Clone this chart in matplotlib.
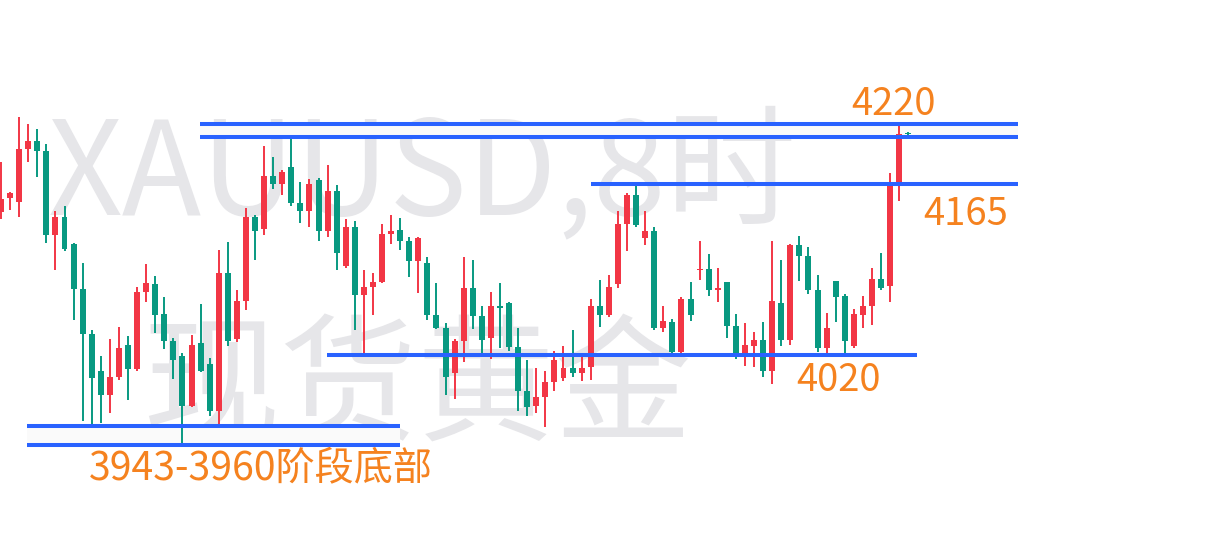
import matplotlib.pyplot as plt
from matplotlib.patches import Rectangle

plt.rcParams['font.family'] = ['Noto Sans CJK SC', 'DejaVu Sans']

# XAUUSD 8h candles (red = up, green = down)
opens = [4141, 4153, 4150, 4195, 4201, 4193, 4122, 4137, 4114, 4076,
         4038, 4007, 3986, 4002, 4029, 4008, 4074, 4080, 4055, 4032,
         4019, 3977, 4030, 4013, 3973, 4090, 4034, 4066, 4137, 4127,
         4172, 4165, 4179, 4149, 4142, 4168, 4125, 4159, 4096, 4129,
         4071, 4078, 4082, 4123, 4126, 4117, 4100, 4098, 4054, 4043,
         4005, 4032, 4077, 4053, 4035, 4062, 4064, 4027, 3990, 3977,
         3985, 3997, 4001, 4009, 4005, 4010, 4062, 4054, 4080, 4131,
         4156, 4119, 4125, 4043, 4048, 4023, 4068, 4092, 4093, 4075,
         4082, 4045, 4022, 4028, 4033, 4007, 4064, 4033, 4113, 4104,
         4075, 4026, 4083, 4070, 4028, 4054, 4062, 4085, 4079, 4163,
         4208]
highs = [4184, 4158, 4222, 4216, 4212, 4199, 4142, 4146, 4115, 4098,
         4041, 4019, 4034, 4044, 4036, 4078, 4097, 4087, 4069, 4035,
         4022, 4037, 4063, 4018, 4109, 4116, 4075, 4145, 4139, 4197,
         4188, 4177, 4204, 4167, 4169, 4170, 4181, 4164, 4135, 4134,
         4092, 4090, 4131, 4139, 4136, 4120, 4120, 4103, 4081, 4047,
         4034, 4103, 4101, 4062, 4074, 4081, 4065, 4043, 4016, 4009,
         4007, 4024, 4028, 4041, 4019, 4068, 4084, 4088, 4142, 4157,
         4165, 4142, 4129, 4062, 4051, 4069, 4082, 4117, 4106, 4094,
         4082, 4055, 4047, 4040, 4048, 4117, 4101, 4114, 4121, 4112,
         4088, 4056, 4083, 4072, 4059, 4070, 4094, 4107, 4174, 4214,
         4209]
lows = [4135, 4143, 4137, 4184, 4171, 4115, 4092, 4108, 4050, 3964,
        3961, 3963, 3971, 3999, 3982, 4007, 4065, 4039, 4025, 4000,
        3943, 3976, 4006, 3969, 3961, 4028, 4031, 4058, 4101, 4122,
        4161, 4156, 4146, 4132, 4129, 4117, 4120, 4092, 4094, 4041,
        4022, 4054, 4081, 4114, 4109, 4086, 4073, 4050, 4042, 3986,
        3983, 4014, 4042, 4022, 4017, 4026, 4024, 3973, 3969, 3971,
        3959, 3990, 3998, 4002, 3998, 3999, 4044, 4052, 4077, 4108,
        4129, 4113, 4041, 4040, 4022, 4022, 4049, 4084, 4070, 4065,
        4035, 4017, 4011, 4010, 4002, 3996, 4028, 4029, 4083, 4072,
        4023, 4022, 4048, 4021, 4026, 4043, 4046, 4075, 4065, 4151,
        4206]
closes = [4152, 4157, 4195, 4201, 4193, 4122, 4137, 4110, 4076, 4038,
          4001, 3986, 4002, 4026, 4008, 4074, 4081, 4054, 4032, 4016,
          3977, 4029, 4007, 3973, 4090, 4032, 4066, 4137, 4125, 4172,
          4165, 4175, 4149, 4142, 4165, 4125, 4159, 4107, 4129, 4071,
          4078, 4082, 4123, 4125, 4117, 4100, 4119, 4054, 4043, 4002,
          4032, 4077, 4053, 4033, 4062, 4060, 4027, 3990, 3976, 3985,
          3997, 4016, 4009, 4005, 4009, 4062, 4054, 4078, 4131, 4156,
          4130, 4125, 4043, 4049, 4023, 4068, 4054, 4093, 4075, 4077,
          4045, 4022, 4029, 4033, 4007, 4066, 4033, 4113, 4104, 4075,
          4026, 4043, 4069, 4032, 4055, 4062, 4085, 4077, 4163, 4207,
          4207]

# drawn levels
top_band = (4216, 4205)
resist = 4165
support = 4020
bottom_band = (3960, 3944)

label_top = '4220'
label_resist = '4165'
label_support = '4020'
label_bottom = '3943-3960阶段底部'

UP = '#F23645'
DOWN = '#089981'
BLUE = '#2962FF'
ORANGE = '#F5821F'
WM = '#E6E6E9'

fig = plt.figure(figsize=(12.14, 5.38), dpi=100)
ax = fig.add_axes([0, 0, 1, 1])
ax.axis('off')
ax.set_xlim(-0.11, 133.7)
ax.set_ylim(3865.3, 4320.8)

# watermark
ax.text(0.039, 1 - 214 / 538, 'XAUUSD,8时', transform=ax.transAxes,
        fontsize=94, color=WM, ha='left', va='baseline', zorder=0)
ax.text(0.117, 1 - 431 / 538, '现货黄金', transform=ax.transAxes,
        fontsize=99, color=WM, ha='left', va='baseline', zorder=0)

# shaded bands between the paired lines
ax.add_patch(Rectangle((21.94, top_band[1]), 112.1 - 21.94, top_band[0] - top_band[1],
                       facecolor='#FAFAFA', edgecolor='none', zorder=1))
ax.add_patch(Rectangle((2.9, bottom_band[1]), 44.0 - 2.9, bottom_band[0] - bottom_band[1],
                       facecolor='#FAFAFA', edgecolor='none', zorder=1))

# candles
for i in range(len(opens)):
    o, h, l, c = opens[i], highs[i], lows[i], closes[i]
    col = UP if c >= o else DOWN
    ax.vlines(i, l, h, color=col, linewidth=1.4, zorder=3)
    ax.bar(i, max(abs(c - o), 0.9), bottom=min(o, c), width=0.66,
           color=col, linewidth=0, zorder=3)

# horizontal levels
lw = 2.9
ax.hlines(top_band, 21.94, 112.1, color=BLUE, linewidth=lw, zorder=4)
ax.hlines(resist, 65.05, 112.1, color=BLUE, linewidth=lw, zorder=4)
ax.hlines(support, 35.98, 101.0, color=BLUE, linewidth=lw, zorder=4)
ax.hlines(bottom_band, 2.9, 44.0, color=BLUE, linewidth=lw, zorder=4)

# labels
def label(x, y, s, size=27.5):
    ax.text(x / 1214, 1 - y / 538, s, transform=ax.transAxes, fontsize=size,
            color=ORANGE, ha='left', va='baseline', zorder=5)

label(851, 115, label_top)
label(923, 225, label_resist)
label(796, 391, label_support)
label(89, 479, label_bottom, 28.2)

fig.savefig('out.png', dpi=100, facecolor='white')
